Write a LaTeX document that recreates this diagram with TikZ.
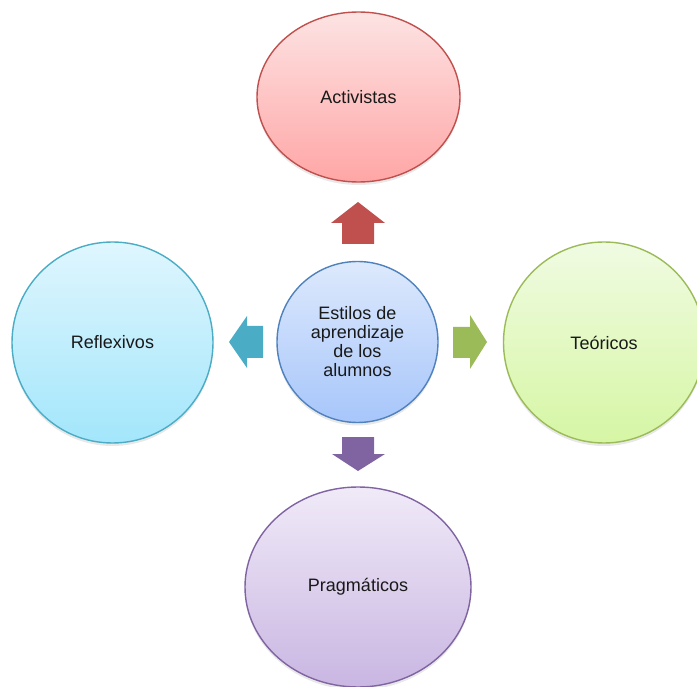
\documentclass[tikz,border=0pt]{standalone}
\usepackage{fontspec}
\setmainfont{Liberation Sans}
\usetikzlibrary{shapes.geometric,shadows}
\definecolor{redE}{HTML}{C0504D}
\definecolor{redT}{HTML}{FDE3E3}
\definecolor{redB}{HTML}{FFA6A6}
\definecolor{bluE}{HTML}{4F81BD}
\definecolor{bluT}{HTML}{DDE9FC}
\definecolor{bluB}{HTML}{A7C6FB}
\definecolor{tealE}{HTML}{4BACC6}
\definecolor{tealT}{HTML}{DFF6FE}
\definecolor{tealB}{HTML}{A3E6FB}
\definecolor{grnE}{HTML}{9BBB59}
\definecolor{grnT}{HTML}{F0FBE2}
\definecolor{grnB}{HTML}{D6F6A4}
\definecolor{purE}{HTML}{8064A2}
\definecolor{purT}{HTML}{F0EAF8}
\definecolor{purB}{HTML}{C9B6E2}
\tikzset{
  bubble/.style={line width=1.4pt, inner sep=0pt, align=center,
    font=\fontsize{18}{19}\selectfont, text=black!90,
    drop shadow={opacity=0.18, shadow xshift=0pt, shadow yshift=-3pt}},
  blockarrow/.style={draw=none}
}
\begin{document}
\begin{tikzpicture}[x=1pt,y=-1pt]
\useasboundingbox (0,0) rectangle (697,687);
% outer bubbles
\node[bubble, ellipse, minimum width=203pt, minimum height=170pt, draw=redE,
  top color=redT, bottom color=redB] (act) at (358.5,97) {Activistas};
\node[bubble, circle, minimum size=201pt, draw=tealE,
  top color=tealT, bottom color=tealB] (ref) at (112.5,342.5) {Reflexivos};
\node[bubble, circle, minimum size=201pt, draw=grnE,
  top color=grnT, bottom color=grnB] (teo) at (604,342.5) {Teóricos};
\node[bubble, ellipse, minimum width=226pt, minimum height=200pt, draw=purE,
  top color=purT, bottom color=purB] (pra) at (358,587) {Pragmáticos};
% centre
\node[bubble, circle, minimum size=161pt, draw=bluE,
  top color=bluT, bottom color=bluB] (cen) at (357.5,342)
  {Estilos de\\aprendizaje\\de los\\alumnos};
% block arrows
\fill[redE] (342,244) -- (342,223) -- (331,223) -- (358,202) -- (385,223) -- (374,223) -- (374,244) -- cycle;
\fill[grnE] (453,327) -- (470,327) -- (470,315) -- (487,342) -- (470,369) -- (470,358) -- (453,358) -- cycle;
\fill[tealE] (263,326) -- (247,326) -- (247,316) -- (229,342) -- (247,368) -- (247,358) -- (263,358) -- cycle;
\fill[purE] (342,437) -- (374,437) -- (374,454) -- (385,454) -- (358,471) -- (332,454) -- (342,454) -- cycle;
\end{tikzpicture}
\end{document}
